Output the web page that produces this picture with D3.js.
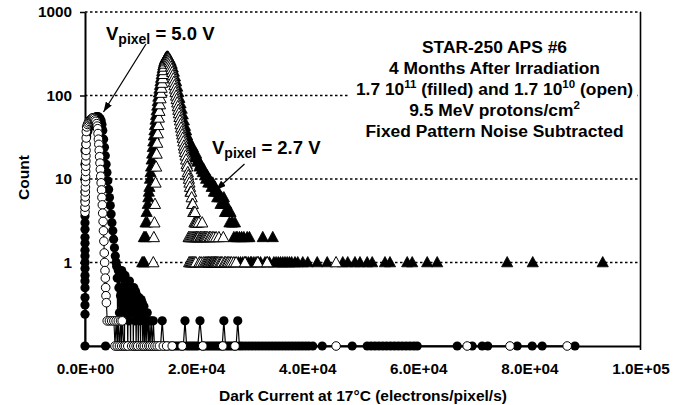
<!DOCTYPE html>
<html><head><meta charset="utf-8">
<script src="https://cdn.jsdelivr.net/npm/d3@7"></script>
<style>
body{margin:0;background:#fff;}
svg{display:block;font-family:"Liberation Sans",Arial,Helvetica,sans-serif;font-weight:bold;}
</style></head><body>
<svg id="chart" width="696" height="405"></svg>
<script>
// Dark-current histograms: [electrons/pixel/s, count], in recorded order
const filledTriangles = [
 [10300,1],[10500,1],[10600,2],[10700,1],[10800,2],[10900,3],[11000,2],[11100,4],[11200,3],[11300,5],[11400,6],[11500,7],[11600,8],[11700,10],[11800,12],[11900,14],[12000,17],[12100,20],[12200,24],[12300,28],[12400,33],[12500,38],[12600,44],[12700,51],[12800,58],[12900,66],[13000,75],[13100,85],[13200,96],[13300,108],[13400,120],[13500,133],[13600,147],[13700,162],[13800,178],[13900,195],[14000,212],[14100,228],[14200,243],[14300,256],[14400,267],[14500,276],[14600,283],[14700,288],[14800,291],[14900,290],[15000,286],
 [15200,274],[15400,258],[15600,238],[15800,215],[16000,192],[16200,168],[16400,147],[16600,127],[16800,109],[17000,93],[17200,80],[17400,69],[17600,59],[17800,50],[18000,43],[18200,38],[18400,33],[18600,30],[18800,27],[19000,26],[19200,22],[19400,24],[19600,21],[19800,18],[20000,20],[20200,16],[20400,17],[20600,14],[20800,15],[21000,13],[21200,12],[21400,13],[21600,11],[21800,10],[22000,11],[22200,9],[22400,10],[22600,9],[22800,8],[23000,9],[23200,7],[23400,8],[23600,7],[23800,6],[24000,7],[24200,6],[24400,5],[24600,6],[24800,5],[25000,6],[25200,4],[25400,5],[25600,4],[25800,4],[26000,3],[26200,4],[26400,3],[26600,3],[26800,2],[27000,3],[27200,2],[27400,2],[27600,1],[27800,2],[28000,1],[28200,2],[28400,1],[28600,2],[28800,1],[29000,1],[29200,2],[29400,1],[29600,2],[29800,1],[30000,1],[30400,1],[30800,1],[31200,1],[31600,1],[32000,2],[32400,1],[32800,1],[33200,1],[33800,2],[34000,1],[34400,1],[34800,1],[35200,1],[35600,1],[36000,1],[36400,1],[36800,1],[37200,1],[37800,1],[38300,1],[39200,1],[40100,1],[41800,1],[43600,1],[46400,1],[47300,1],[48600,1],[49500,1],[50800,1],[51700,1],[54000,1],[54900,1],[58000,1],[58900,1],[61600,1],[63400,1],[76000,1],[80600,1],[93200,1]
];
const openTriangles = [
 [12300,1],[12400,2],[12500,3],[12600,5],[12700,9],[12800,14],[12900,20],[13000,27],[13100,35],[13200,44],[13300,54],[13400,65],[13500,78],[13600,92],[13700,107],[13800,123],[13900,141],[14000,160],[14100,180],[14200,200],[14300,220],[14400,239],[14500,255],[14600,267],[14700,276],[14800,281],[14900,283],[15000,279],
 [15100,272],[15200,262],[15300,250],[15400,236],[15500,221],[15600,206],[15700,190],[15800,174],[15900,159],[16000,145],[16100,132],[16200,120],[16300,109],[16400,99],[16500,90],[16600,82],[16700,74],[16800,67],[16900,61],[17000,55],[17100,50],[17200,45],[17300,41],[17400,37],[17500,34],[17600,31],[17700,28],[17800,25],[17900,23],[18000,21],[18100,19],[18200,17],[18300,15],[18400,14],[18500,12],[18600,11],[18700,10],[18800,9],[18900,8],[19000,7],[19100,7],[19200,6],[19300,5],[19400,5],[19500,4],[19600,4],[19700,3],[19800,4],[19900,3],[20000,3],
 [18650,2],[18750,1],[18850,2],[18950,1],[19050,2],[19150,1],[19250,2],[19350,1],[19450,2],[19550,1],[19650,2],[19750,1],[19850,2],[19950,1],[20050,2],
 [20100,2],[20200,3],[20300,2],[20400,2],[20500,3],[20600,1],[20700,2],[20800,2],[20900,1],[21000,2],[21100,3],[21200,2],[21300,1],[21400,2],[21500,2],[21600,1],[21700,2],[21800,1],[21900,2],[22000,1],[22100,2],[22200,1],[22300,1],[22400,2],[22500,1],[22600,2],[22700,1],[22800,1],[22900,2],[23000,1],[23100,1],[23200,2],[23300,1],[23400,1],[23500,1],[23600,2],[23700,1],[23800,1],[24000,1],[24100,2],[24300,1],[24500,1],[24700,1],[24900,2],[25100,1],[25300,1],[25600,1],[25800,1],[26100,1],[26400,1],[26800,1],[27200,1],[28800,1],[31100,1],[32800,1],[45200,1]
];
const filledCircles = [
 [3700,0.1],
 [0,0.1],[0,0.24],[0,0.31],[0,0.38],[0,0.5],[0,0.6],[0,0.7],[0,0.85],[0,1],[0,1.2],[0,1.4],[0,1.7],[0,2],[0,2.5],[0,3],[0,3.6],[0,4.5],[0,5.5],[0,7],[0,10],[0,15],[0,22],
 [150,26],[300,32],[500,37],[700,41],[900,45],[1100,48],[1300,50],[1500,52],[1700,54],[1900,55],[2100,56],[2300,56],[2500,55],[2700,53],[2900,50],[3050,45],[3200,38],[3350,30],[3500,24],[3650,19],[3800,15],[3950,12],[4100,9.5],[4250,7.5],[4400,6],[4550,4.8],[4700,3.8],[4850,3],[5000,2.4],[5150,1.9],[5300,1.5],[5450,1.2],[5600,1],
 [5700,0.9],[5800,0.65],[5900,0.1],[6000,0.8],[6100,0.5],[6200,0.25],[6300,0.7],[6400,0.4],[6500,0.1],[6600,0.8],[6700,0.33],[6800,0.2],[6900,0.65],[7000,0.5],[7100,0.1],[7200,0.7],[7300,0.4],[7400,0.25],[7500,0.6],[7600,0.33],[7700,0.1],[7800,0.5],[7900,0.2],[8000,0.6],[8100,0.4],[8200,0.1],[8300,0.5],[8400,0.33],[8500,0.25],[8600,0.45],[8700,0.1],[8800,0.5],[8900,0.38],[9000,0.2],[9100,0.45],[9200,0.1],[9300,0.33],[9400,0.4],[9500,0.25],[9600,0.1],[9700,0.38],[9800,0.2],[9900,0.33],[10000,0.1],[10100,0.36],[10200,0.25],[10300,0.33],[10400,0.1],[10500,0.2],[10600,0.3],[10700,0.1],[10800,0.25],[10900,0.2],[11000,0.1],[11200,0.25],[11400,0.1],[11500,0.2],[11700,0.1],[11900,0.2],[12100,0.1],[12300,0.2],[12500,0.1],
 [12800,0.1],[13200,0.1],[13600,0.1],[13900,0.2],[14200,0.1],[14600,0.1],[15000,0.1],[15400,0.1],[15800,0.1],[16200,0.1],[16600,0.1],[17000,0.1],[17400,0.1],[17700,0.1],[18000,0.2],[18300,0.1],[18700,0.1],[19100,0.1],[19500,0.1],[19900,0.1],[20300,0.1],[20700,0.2],[21100,0.1],[21500,0.1],[21900,0.1],[22300,0.1],[22700,0.1],[23100,0.1],[23500,0.1],[23900,0.1],[24300,0.1],[24700,0.1],[25000,0.2],[25300,0.1],[25700,0.1],[26100,0.1],[26500,0.1],[26900,0.1],[27200,0.1],[27500,0.2],[27800,0.1],[28300,0.1],[28900,0.1],[29500,0.1],[30100,0.1],[30700,0.1],[31300,0.1],[31900,0.1],[32500,0.1],[33100,0.1],[33700,0.1],[34300,0.1],[34900,0.1],[35500,0.1],[36100,0.1],[36700,0.1],[37300,0.1],[37900,0.1],[38500,0.1],[39100,0.1],[39700,0.1],[40300,0.1],[41000,0.1],[42700,0.1],[48100,0.1],[50800,0.1],[51500,0.1],[52200,0.1],[52900,0.1],[53600,0.1],[54300,0.1],[55000,0.1],[55700,0.1],[56400,0.1],[57100,0.1],[57800,0.1],[58500,0.1],[59200,0.1],[59800,0.1],[67000,0.1],[69700,0.1],[71500,0.1],[72500,0.1],[77800,0.1],[80500,0.1],[82300,0.1],[88200,0.1]
];
const openCircles = [
 [0,4],[15,4.6],[30,5.3],[45,6.1],[60,7],[75,8],[90,9.3],[105,10.7],[120,12.3],[135,14.2],[150,16.4],[165,19],[180,22],[200,26],[220,31],[240,37],
 [300,42],[450,45],[600,47],[750,49],[900,51],[1050,52],[1200,53],[1350,54],[1500,54],[1650,53],[1800,51],[1950,49],[2100,46],[2200,43],
 [2280,40],[2350,35],[2420,30],[2490,26],[2560,22],[2630,18.5],[2700,15.5],[2770,13],[2840,10.8],[2910,9],[2980,7.4],[3050,6],[3120,4.9],[3190,3.9],[3260,3.1],[3330,2.4],[3400,1.8],[3470,1.3],[3540,1],[3600,0.8],[3660,0.65],[3720,0.5],[3780,0.4],[3850,0.33],
 [4000,0.2],[4400,0.2],[4800,0.2],[5200,0.2],[5400,0.1],[5600,0.2],[5800,0.1],[6000,0.2],[6200,0.1],[6400,0.2],[6600,0.1],[6700,0.2],[7000,0.1],[7300,0.1],[7700,0.1],[8400,0.1],[8800,0.1],[9200,0.1],[9500,0.1],[10000,0.1],[10400,0.1],[10700,0.1],[11100,0.1],[11500,0.1],[11800,0.1],[12200,0.1],[12600,0.1],[13000,0.1],[13400,0.1],[14100,0.1],[14700,0.1],[15700,0.1],[17500,0.1],[21200,0.1],[24800,0.1],[27000,0.1],[45200,0.1],[68800,0.1],[76500,0.1],[86800,0.1]
];

const xTicks = [0, 20000, 40000, 60000, 80000, 100000];
const xTickLabels = ['0.0E+00', '2.0E+04', '4.0E+04', '6.0E+04', '8.0E+04', '1.0E+05'];
const yTicks = [1, 10, 100, 1000];
const yTickLabels = ['1', '10', '100', '1000'];

const FONT = '"Liberation Sans",Arial,Helvetica,sans-serif';
const svg = d3.select('#chart');
const x = d3.scaleLinear().domain([0, 100000]).range([85, 640.5]);
const y = d3.scaleLog().domain([0.1, 1000]).range([346, 12]);
const [x0, x1] = x.range();
const [yb, yt] = y.range();

// dotted gridlines
svg.append('g').selectAll('line').data(yTicks).join('line')
  .attr('x1', x0).attr('x2', x1)
  .attr('y1', d => y(d)).attr('y2', d => y(d))
  .attr('stroke', '#000').attr('stroke-width', 1.4).attr('stroke-dasharray', '2.5,2.5');

// right frame
svg.append('line').attr('x1', x1).attr('x2', x1).attr('y1', yt).attr('y2', yb + 4)
  .attr('stroke', '#000').attr('stroke-width', 1.6);

// annotation box
const note = svg.append('g');
note.append('rect').attr('x', 350).attr('y', 32).attr('width', 287).attr('height', 112).attr('fill', '#fff');
const noteX = 494.5, fs = 17.4, sup = 11.5;
function noteLine(yy, parts) {
  const t = note.append('text').attr('x', noteX).attr('y', yy).attr('text-anchor', 'middle')
    .attr('font-size', fs).attr('fill', '#000');
  let raised = false;
  parts.forEach(p => {
    const s = t.append('tspan').text(p.t);
    if (p.sup && !raised) { s.attr('font-size', sup).attr('dy', -7); raised = true; }
    else if (!p.sup && raised) { s.attr('dy', 7); raised = false; }
  });
}
noteLine(52.7, [{t: 'STAR-250 APS #6'}]);
noteLine(74, [{t: '4 Months After Irradiation'}]);
noteLine(95, [{t: '1.7 10'}, {t: '11', sup: true}, {t: ' (filled) and 1.7 10'}, {t: '10', sup: true}, {t: ' (open)'}]);
noteLine(115.7, [{t: '9.5 MeV protons/cm'}, {t: '2', sup: true}]);
noteLine(137, [{t: 'Fixed Pattern Noise Subtracted'}]);

// axes
const yAxis = svg.append('g').attr('transform', `translate(${x0},0)`)
  .call(d3.axisLeft(y).tickValues(yTicks).tickSize(5).tickSizeOuter(0).tickPadding(8)
    .tickFormat((d, i) => yTickLabels[i]));
yAxis.attr('font-family', FONT).attr('font-size', 15.3);
yAxis.select('.domain').attr('stroke-width', 2);
yAxis.selectAll('.tick line').attr('stroke-width', 1.5);
yAxis.selectAll('text').attr('fill', '#000');

const xAxis = svg.append('g').attr('transform', `translate(0,${yb})`)
  .call(d3.axisBottom(x).tickValues(xTicks).tickSize(0).tickSizeOuter(0).tickPadding(17.4)
    .tickFormat((d, i) => xTickLabels[i]));
xAxis.attr('font-family', FONT).attr('font-size', 15.3);
xAxis.select('.domain').attr('stroke-width', 2);
xAxis.selectAll('text').attr('fill', '#000');

svg.append('text').attr('x', 363).attr('y', 400.5).attr('text-anchor', 'middle')
  .attr('font-size', 15.5).text('Dark Current at 17°C (electrons/pixel/s)');
svg.append('text').attr('transform', 'translate(29,177.5) rotate(-90)').attr('text-anchor', 'middle')
  .attr('font-size', 15.5).text('Count');

// series
const tri = 'M0,-6L5.6,4.3L-5.6,4.3Z';
const line = d3.line().x(d => x(d[0])).y(d => y(d[1]));

svg.append('g').selectAll('path').data(filledTriangles).join('path')
  .attr('d', tri).attr('transform', d => `translate(${x(d[0])},${y(d[1])})`)
  .attr('fill', '#000').attr('stroke', '#000').attr('stroke-width', 0.8);
svg.append('g').selectAll('path').data(openTriangles).join('path')
  .attr('d', tri).attr('transform', d => `translate(${x(d[0])},${y(d[1])})`)
  .attr('fill', '#fff').attr('stroke', '#000').attr('stroke-width', 1);

svg.append('path').datum(filledCircles).attr('d', line)
  .attr('fill', 'none').attr('stroke', '#000').attr('stroke-width', 1.2);
svg.append('g').selectAll('circle').data(filledCircles).join('circle')
  .attr('cx', d => x(d[0])).attr('cy', d => y(d[1])).attr('r', 4.6).attr('fill', '#000');

svg.append('path').datum(openCircles).attr('d', line)
  .attr('fill', 'none').attr('stroke', '#000').attr('stroke-width', 1.1);
svg.append('g').selectAll('circle').data(openCircles).join('circle')
  .attr('cx', d => x(d[0])).attr('cy', d => y(d[1])).attr('r', 4.3)
  .attr('fill', '#fff').attr('stroke', '#000').attr('stroke-width', 1);

// V_pixel labels with arrows
const defs = svg.append('defs');
defs.append('marker').attr('id', 'head').attr('viewBox', '0 0 10 7').attr('refX', 10).attr('refY', 3.5)
  .attr('markerWidth', 10).attr('markerHeight', 7).attr('markerUnits', 'userSpaceOnUse').attr('orient', 'auto')
  .append('path').attr('d', 'M0,0L10,3.5L0,7Z').attr('fill', '#000');

function vLabel(px, py, value) {
  const t = svg.append('text').attr('x', px).attr('y', py).attr('font-size', 18.5).attr('fill', '#000');
  t.append('tspan').text('V');
  t.append('tspan').attr('font-size', 14).attr('dy', 4).text('pixel');
  t.append('tspan').attr('dy', -4).text(` = ${value} V`);
}
vLabel(106, 40, '5.0');
vLabel(212, 154, '2.7');
svg.append('line').attr('x1', 146).attr('y1', 44).attr('x2', 103.5).attr('y2', 112)
  .attr('stroke', '#000').attr('stroke-width', 1.2).attr('marker-end', 'url(#head)');
svg.append('line').attr('x1', 244.5).attr('y1', 164).attr('x2', 216).attr('y2', 190)
  .attr('stroke', '#000').attr('stroke-width', 1.2).attr('marker-end', 'url(#head)');
</script>
</body></html>
